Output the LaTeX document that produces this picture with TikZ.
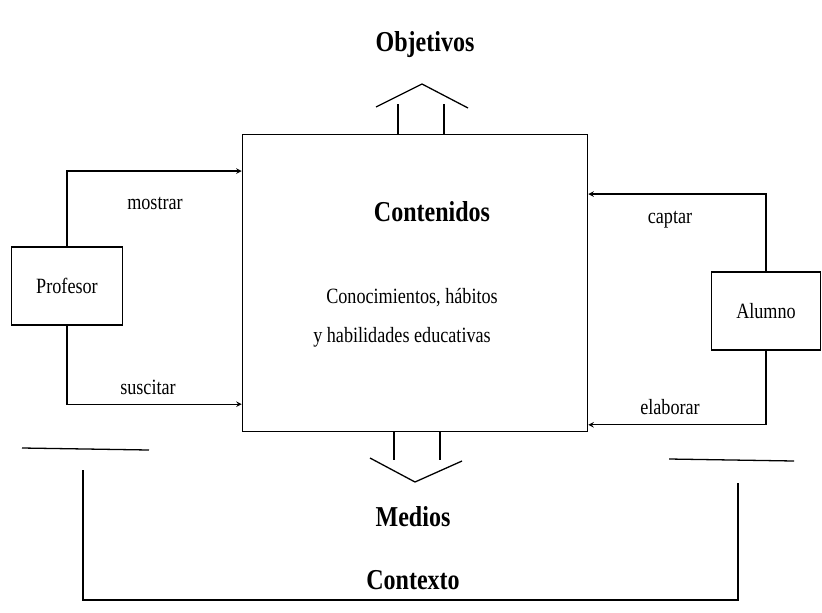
\documentclass[tikz,border=0pt]{standalone}
\usepackage{fontspec}
\setmainfont{Liberation Serif}
\usepackage{tikz}
\usetikzlibrary{arrows, calc}

\newcommand{\tall}[1]{\scalebox{1}[1.2]{#1}}

\begin{document}
\begin{tikzpicture}[
            x = 0.03cm, y = -0.03cm, % pixel grid, y going down
            > = stealth, % arrow head style
            line width = 1.1pt
        ]

        \tikzstyle{block}=[
            draw = black,
            line width = 1.3pt,
            fill = white,
            inner sep = 0pt
        ]
        \tikzstyle{title}=[font = \fontsize{20.5}{24}\selectfont\bfseries]
        \tikzstyle{body}=[font = \fontsize{15.5}{18}\selectfont]
        \tikzstyle{verb}=[font = \fontsize{15.5}{18}\selectfont]

        \useasboundingbox (0,0) rectangle (822,612);

        \node[block, minimum width = 10.35cm, minimum height = 8.91cm] (cont) at (415,283) {};
        \node[title] (contenidos) at (432,212) {\tall{Contenidos}};
        \node[body] (conoc) at (412,298) {\tall{Conocimientos, hábitos}};
        \node[body] (habil) at (402,337) {\tall{y habilidades educativas}};

        \node[block, body, minimum width = 3.33cm, minimum height = 2.34cm] (prof) at (67,286) {\tall{Profesor}};
        \node[block, body, minimum width = 3.27cm, minimum height = 2.34cm] (alum) at (766,311) {\tall{Alumno}};

        \node[title] (obj) at (425,45) {\tall{Objetivos}};
        \node[title] (medios) at (413,517) {\tall{Medios}};
        \node[title] (contexto) at (413,580) {\tall{Contexto}};

        \node[verb] (mostrar) at (155,203) {\tall{mostrar}};
        \node[verb] (suscitar) at (148,387) {\tall{suscitar}};
        \node[verb] (captar) at (670,220) {\tall{captar}};
        \node[verb] (elaborar) at (670,407) {\tall{elaborar}};

        % profesor -> contenidos
        \draw[->] (prof.north) |- ($(cont.north west)!0.125!(cont.south west)$);
        \draw[->] (prof.south) |- ($(cont.north west)!0.906!(cont.south west)$);
        % alumno -> contenidos
        \draw[->] (alum.north) |- ($(cont.north east)!0.202!(cont.south east)$);
        \draw[->] (alum.south) |- ($(cont.north east)!0.975!(cont.south east)$);

        % objetivos arrow
        \draw ([xshift = -0.51cm]cont.north) -- ++(0,-30);
        \draw ([xshift = 0.87cm]cont.north) -- ++(0,-30);
        \draw (376,107) -- (422,84) -- (468,108);

        % medios arrow
        \draw ([xshift = -0.63cm]cont.south) -- ++(0,28);
        \draw ([xshift = 0.75cm]cont.south) -- ++(0,28);
        \draw (370,458) -- (415,482) -- (462,461);

        % contexto
        \draw (22,448) -- (149,450);
        \draw (669,459) -- (794,461);
        \draw (83,470) -- (83,600) -- (738,600) -- (738,483);
    \end{tikzpicture}
\end{document}
